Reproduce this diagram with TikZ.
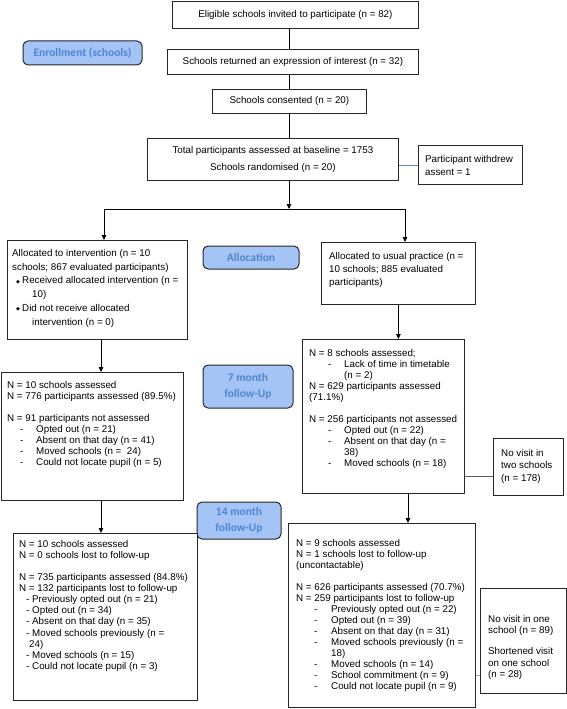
\documentclass[tikz,border=0pt]{standalone}
\usepackage{fontspec}
\setmainfont{Liberation Sans}
\newfontfamily\lblfont{Carlito}
\newfontfamily\symfont{DejaVu Sans}
\usetikzlibrary{arrows.meta}
\definecolor{lblfill}{RGB}{164,196,246}
\definecolor{lbltext}{RGB}{80,134,206}
\definecolor{lnkA}{RGB}{92,134,192}
\definecolor{lnkB}{RGB}{90,90,90}
\definecolor{lnkC}{RGB}{140,176,216}
\newcommand{\dlit}[3]{\hspace*{#1}\makebox[#2][l]{-}#3}
\newcommand{\bulit}{\makebox[6pt][l]{\raisebox{0.6pt}{\symfont\fontsize{5}{5}\selectfont ◆}}}
\tikzset{
  bx/.style 2 args={draw=black!85, line width=0.8pt, fill=white, inner sep=0pt,
    anchor=north west, minimum width=#1pt, minimum height=#2pt,
    font=\fontsize{9.8}{11}\selectfont, align=center},
  txt/.style={anchor=north west, inner sep=0pt, align=left,
    font=\fontsize{9.8}{11}\selectfont},
  lbl/.style 2 args={draw=black!85, line width=1pt, rounded corners=5pt,
    fill=lblfill, text=lbltext, inner sep=0pt, align=center,
    minimum width=#1pt, minimum height=#2pt,
    font=\lblfont\bfseries\fontsize{11.5}{16}\selectfont},
  ln/.style={draw=black, line width=0.8pt},
  arr/.style={draw=black, line width=0.8pt, -{Triangle[length=5pt,width=4.5pt]}}
}
\begin{document}
\begin{tikzpicture}[x=1pt,y=-1pt]
\useasboundingbox (0,0) rectangle (567,709);

% --- enrollment column ---
\node[bx={246}{27}] (b1) at (172,1) {Eligible schools invited to participate (n = 82)};
\node[bx={251}{25}] (b2) at (167,49) {Schools returned an expression of interest (n = 32)};
\node[bx={154}{24}] (b3) at (212,89) {Schools consented (n = 20)};
\node[bx={251}{42}, font=\fontsize{9.8}{17}\selectfont] (b4) at (147,138)
  {Total participants assessed at baseline = 1753\\Schools randomised (n = 20)};
\node[bx={104}{39}] (wd) at (418,145) {};
\node[txt, font=\fontsize{9.8}{13}\selectfont] (wdt) at (425,155) {Participant withdrew\\assent = 1};

% --- labels ---
\node[lbl={119}{24}] (enr) at (82.5,53) {Enrollment (schools)};
\node[lbl={96}{23}] (alo) at (251,257.5) {Allocation};
\node[lbl={90}{43}] (m7) at (248,386.5) {7 month\\follow-Up};
\node[lbl={84}{37}] (m14) at (239,520.5) {14 month\\follow-Up};

% --- allocation ---
\node[bx={180}{99}] (iv) at (7,240) {};
\node[txt, font=\fontsize{9.8}{13.8}\selectfont] (ivt) at (12,249)
  {Allocated to intervention (n = 10\\
   schools; 867 evaluated participants)\\
   \hspace*{4pt}\bulit Received allocated intervention (n =\\
   \hspace*{20pt}10)\\
   \hspace*{4pt}\bulit Did not receive allocated\\
   \hspace*{20pt}intervention (n = 0)};
\node[bx={154}{62}] (up) at (321,242) {};
\node[txt, font=\fontsize{9.8}{13}\selectfont] (upt) at (329,252)
  {Allocated to usual practice (n =\\10 schools; 885 evaluated\\participants)};

% --- 7 month ---
\node[bx={182}{128}] (l7) at (1,372) {};
\node[txt] (l7t) at (7,381)
  {N = 10 schools assessed\\
   N = 776 participants assessed (89.5\%)\\[11pt]
   N = 91 participants not assessed\\
   \dlit{13pt}{16pt}{Opted out (n = 21)}\\
   \dlit{13pt}{16pt}{Absent on that day (n = 41)}\\
   \dlit{13pt}{16pt}{Moved schools (n = \ 24)}\\
   \dlit{13pt}{16pt}{Could not locate pupil (n = 5)}};
\node[bx={162}{154}] (r7) at (302,339) {};
\node[txt] (r7t) at (309,349)
  {N = 8 schools assessed;\\
   \dlit{19pt}{16pt}{Lack of time in timetable}\\
   \hspace*{35pt}(n = 2)\\
   N = 629 participants assessed\\
   (71.1\%)\\[11pt]
   N = 256 participants not assessed\\
   \dlit{19pt}{16pt}{Opted out (n = 22)}\\
   \dlit{19pt}{16pt}{Absent on that day (n =}\\
   \hspace*{35pt}38)\\
   \dlit{19pt}{16pt}{Moved schools (n = 18)}};
\node[bx={70}{57}] (nv2) at (493,438) {};
\node[txt, font=\fontsize{9.8}{12.5}\selectfont] (nv2t) at (501,449)
  {No visit in\\two schools\\(n = 178)};

% --- 14 month ---
\node[bx={184}{167}] (l14) at (13,533) {};
\node[txt, font=\fontsize{9.8}{11.1}\selectfont] (l14t) at (19,540)
  {N = 10 schools assessed\\
   N = 0 schools lost to follow-up\\[11pt]
   N = 735 participants assessed (84.8\%)\\
   N = 132 participants lost to follow-up\\
   \hspace*{7pt}- Previously opted out (n = 21)\\
   \hspace*{7pt}- Opted out (n = 34)\\
   \hspace*{7pt}- Absent on that day (n = 35)\\
   \hspace*{7pt}- Moved schools previously (n =\\
   \hspace*{10pt}24)\\
   \hspace*{7pt}- Moved schools (n = 15)\\
   \hspace*{7pt}- Could not locate pupil (n = 3)};
\node[bx={187}{184}] (r14) at (288,523) {};
\node[txt] (r14t) at (296,539)
  {N = 9 schools assessed\\
   N = 1 schools lost to follow-up\\
   (uncontactable)\\[11pt]
   N = 626 participants assessed (70.7\%)\\
   N = 259 participants lost to follow-up\\
   \dlit{18pt}{17pt}{Previously opted out (n = 22)}\\
   \dlit{18pt}{17pt}{Opted out (n = 39)}\\
   \dlit{18pt}{17pt}{Absent on that day (n = 31)}\\
   \dlit{18pt}{17pt}{Moved schools previously (n =}\\
   \hspace*{35pt}18)\\
   \dlit{18pt}{17pt}{Moved schools (n = 14)}\\
   \dlit{18pt}{17pt}{School commitment (n = 9)}\\
   \dlit{18pt}{17pt}{Could not locate pupil (n = 9)}};
\node[bx={86}{105}] (nv1) at (480,588) {};
\node[txt, font=\fontsize{9.8}{11.6}\selectfont] (nv1t) at (488,615)
  {No visit in one\\school (n = 89)\\[9pt]Shortened visit\\on one school\\(n = 28)};

% --- connectors ---
\coordinate (spine) at (289,0);
\coordinate (jl) at (104,209);
\coordinate (jr) at (405,209);
\coordinate (lx) at (101,0);
\coordinate (rx) at (408,0);
\coordinate (y2) at (0,476);
\coordinate (y1) at (0,675);
\draw[ln] (spine |- b1.south) -- (spine |- b2.north);
\draw[ln] (spine |- b2.south) -- (spine |- b3.north);
\draw[ln] (spine |- b3.south) -- (spine |- b4.north);
\draw[arr] (spine |- b4.south) -- (spine |- jl);
\draw[ln] (jl) -- (jr);
\draw[arr] (jl) -- (jl |- iv.north);
\draw[arr] (jr) -- (jr |- up.north);
\draw[arr] (lx |- iv.south) -- (lx |- l7.north);
\draw[arr] (up.south) -- (up.south |- r7.north);
\draw[arr] (lx |- l7.south) -- (lx |- l14.north);
\draw[arr] (rx |- r7.south) -- (rx |- r14.north);
\draw[draw=lnkA, line width=0.8pt] (wd.west -| b4.east) -- (wd.west);
\draw[draw=lnkB, line width=0.8pt] (r7.east |- y2) -- (nv2.west |- y2);
\draw[draw=lnkC, line width=0.8pt] (r14.east |- y1) -- (nv1.west |- y1);
\end{tikzpicture}
\end{document}
